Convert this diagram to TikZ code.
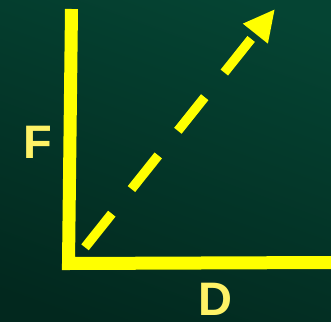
\documentclass[tikz,border=0pt]{standalone}
\usepackage{fontspec}
\setmainfont{Liberation Sans}
\usetikzlibrary{arrows.meta}
\definecolor{bgtop}{RGB}{5,68,51}
\definecolor{bgbot}{RGB}{2,40,30}
\definecolor{axisyellow}{RGB}{255,255,0}
\definecolor{labelyellow}{RGB}{255,242,102}
\tikzset{
  axisline/.style={draw=axisyellow, line width=13pt, line join=miter, line cap=butt},
  dasharrow/.style={draw=axisyellow, line width=9.5pt, dash pattern=on 43pt off 31.5pt,
    -{Triangle[length=31.5pt,width=29.5pt]}},
  axislabel/.style={text=labelyellow, font=\bfseries\fontsize{47}{47}\selectfont, inner sep=0pt}
}
\begin{document}
\begin{tikzpicture}[x=1pt,y=-1pt]
\useasboundingbox (0,0) rectangle (331,321);
\shade[top color=bgtop, bottom color=bgbot, shading angle=-20] (-20,-20) rectangle (351,341);
\coordinate (ytop) at (71.5,9);
\coordinate (orig) at (68.5,263.5);
\coordinate (xend) at (331,262.5);
\coordinate (vstart) at (85,247.3);
\coordinate (vtip) at (275,9);
\draw[axisline] (ytop) -- (orig) -- (xend);
\draw[dasharrow] (vstart) -- (vtip);
\node[axislabel] (F) at (38,142) {F};
\node[axislabel] (D) at (215.5,299.5) {D};
\end{tikzpicture}
\end{document}
